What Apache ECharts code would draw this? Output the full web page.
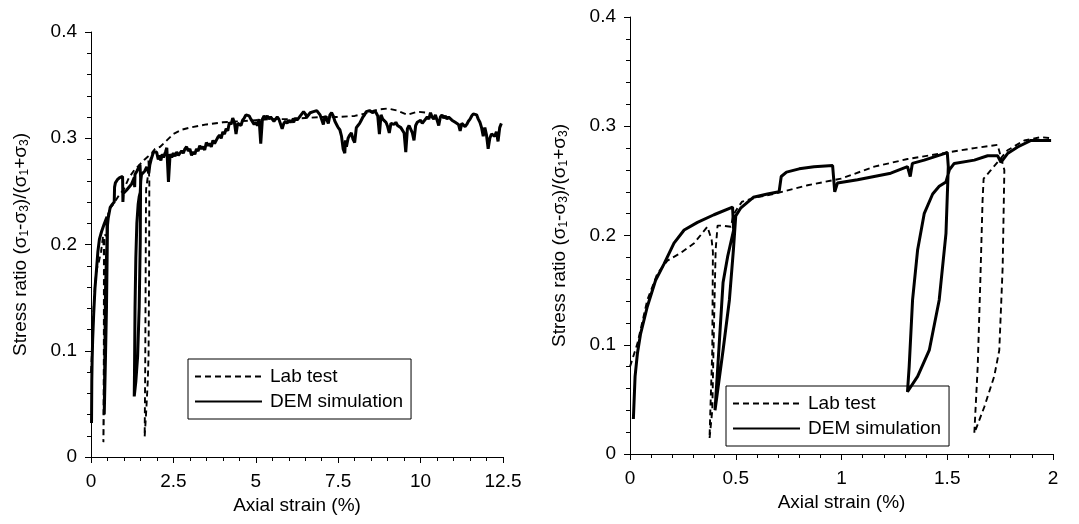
<!DOCTYPE html>
<html>
<head>
<meta charset="utf-8">
<script src="https://cdn.jsdelivr.net/npm/echarts@6/dist/echarts.min.js"></script>
<style>
html,body{margin:0;padding:0;background:#fff;}
#chart{width:1079px;height:524px;}
</style>
</head>
<body>
<div id="chart"></div>
<script>
// ---- tick labels ----
var leftXTicks = [0, 2.5, 5, 7.5, 10, 12.5];
var rightXTicks = [0, 0.5, 1, 1.5, 2];
var yTicks = [0, 0.1, 0.2, 0.3, 0.4];
var seriesNames = ['Lab test', 'DEM simulation'];

// ---- Lab test, first 2 % strain [strain %, stress ratio] ----
var labEarly = [
  [0.0,0.080],[0.035,0.101],[0.082,0.141],[0.129,0.165],[0.177,0.177],[0.24,0.184],
  [0.303,0.193],[0.366,0.208],[0.386,0.196],[0.392,0.185],[0.389,0.095],[0.379,0.034],
  [0.376,0.014],[0.389,0.040],[0.398,0.126],[0.405,0.187],[0.414,0.209],[0.439,0.209],
  [0.477,0.208],[0.489,0.219],[0.508,0.225],[0.53,0.231],[0.6,0.235],[0.68,0.238],
  [0.84,0.246],[0.997,0.252],[1.155,0.263],[1.312,0.270],[1.47,0.275],[1.628,0.280],
  [1.738,0.283],[1.77,0.260],[1.762,0.171],[1.746,0.095],[1.722,0.071],[1.675,0.043],
  [1.628,0.019],[1.644,0.080],[1.656,0.156],[1.667,0.232],[1.672,0.252],[1.707,0.260],
  [1.746,0.269],[1.785,0.278],[1.864,0.287],[1.943,0.290],[1.991,0.289]
];
// ---- Lab test, beyond 2 % strain ----
var labLate = [
  [2.1,0.292],[2.3,0.298],[2.5,0.304],[2.75,0.308],[3.0,0.310],[3.5,0.313],[4.0,0.315],
  [4.5,0.316],[5.0,0.317],[5.5,0.318],[6.0,0.318],[6.5,0.319],[7.0,0.320],[7.5,0.320],
  [8.0,0.321],[8.4,0.324],[8.7,0.327],[9.0,0.328],[9.3,0.326],[9.6,0.322],[9.9,0.325],
  [10.2,0.324]
];
// ---- DEM simulation, first 2 % strain ----
var demEarly = [
  [0.016,0.032],[0.024,0.071],[0.035,0.092],[0.05,0.110],[0.082,0.135],[0.121,0.159],
  [0.161,0.174],[0.208,0.193],[0.256,0.205],[0.319,0.212],[0.397,0.219],[0.485,0.226],
  [0.49,0.205],[0.462,0.181],[0.44,0.157],[0.42,0.095],[0.402,0.040],[0.409,0.040],
  [0.44,0.095],[0.47,0.141],[0.489,0.187],[0.5,0.218],[0.523,0.225],[0.583,0.235],
  [0.65,0.238],[0.705,0.240],[0.715,0.254],[0.74,0.258],[0.8,0.261],[0.87,0.263],
  [0.958,0.264],[0.968,0.240],[0.981,0.248],[1.076,0.251],[1.233,0.257],[1.312,0.263],
  [1.325,0.254],[1.335,0.266],[1.391,0.269],[1.486,0.275],[1.5,0.276],[1.505,0.263],
  [1.494,0.202],[1.462,0.141],[1.415,0.095],[1.36,0.071],[1.312,0.057],[1.32,0.080],
  [1.336,0.141],[1.36,0.187],[1.391,0.220],[1.431,0.238],[1.462,0.245],[1.494,0.249],
  [1.51,0.260],[1.533,0.266],[1.628,0.269],[1.691,0.273],[1.738,0.273],[1.754,0.267],
  [1.785,0.275],[1.833,0.281],[1.896,0.287],[1.943,0.287],[1.991,0.287]
];
// ---- DEM simulation, beyond 2 % strain ----
var demLate = [
  [2.04,0.280],[2.08,0.284],[2.12,0.279],[2.16,0.285],[2.2,0.282],[2.26,0.287],[2.3,0.291],
  [2.35,0.259],[2.4,0.285],[2.45,0.282],[2.5,0.286],[2.55,0.283],[2.6,0.287],[2.65,0.284],
  [2.7,0.286],[2.75,0.288],[2.8,0.286],[2.85,0.290],[2.9,0.292],[2.95,0.288],[3.0,0.290],
  [3.05,0.284],[3.1,0.287],[3.15,0.285],[3.2,0.290],[3.25,0.288],[3.3,0.293],[3.35,0.290],
  [3.4,0.292],[3.45,0.289],[3.5,0.296],[3.55,0.293],[3.6,0.295],[3.65,0.292],[3.7,0.298],
  [3.75,0.295],[3.8,0.298],[3.85,0.301],[3.9,0.303],[3.95,0.300],[4.0,0.306],[4.05,0.304],
  [4.1,0.309],[4.15,0.307],[4.2,0.315],[4.25,0.313],[4.3,0.319],[4.35,0.315],[4.4,0.304],
  [4.45,0.314],[4.5,0.315],[4.55,0.312],[4.6,0.317],[4.65,0.319],[4.7,0.322],[4.75,0.323],
  [4.8,0.321],[4.85,0.318],[4.9,0.317],[4.95,0.313],[5.0,0.315],[5.05,0.312],[5.1,0.318],
  [5.15,0.295],[5.2,0.318],[5.25,0.321],[5.3,0.319],[5.35,0.321],[5.4,0.318],[5.45,0.320],
  [5.5,0.319],[5.55,0.316],[5.6,0.318],[5.65,0.320],[5.7,0.318],[5.8,0.309],[5.85,0.314],
  [5.9,0.316],[5.95,0.314],[6.0,0.317],[6.05,0.315],[6.1,0.317],[6.15,0.315],[6.2,0.319],
  [6.25,0.317],[6.3,0.319],[6.35,0.321],[6.4,0.322],[6.45,0.325],[6.5,0.323],[6.55,0.320],
  [6.6,0.321],[6.65,0.324],[6.7,0.323],[6.75,0.325],[6.8,0.324],[6.85,0.326],[6.9,0.325],
  [6.95,0.322],[7.0,0.321],[7.05,0.313],[7.1,0.321],[7.15,0.318],[7.2,0.314],[7.25,0.322],
  [7.3,0.324],[7.35,0.321],[7.4,0.316],[7.45,0.313],[7.5,0.310],[7.55,0.308],[7.6,0.302],
  [7.65,0.290],[7.7,0.286],[7.72,0.298],[7.75,0.292],[7.8,0.300],[7.85,0.303],[7.9,0.305],
  [7.95,0.299],[8.0,0.296],[8.05,0.310],[8.1,0.312],[8.15,0.314],[8.2,0.317],[8.25,0.320],
  [8.3,0.322],[8.35,0.325],[8.4,0.324],[8.45,0.326],[8.5,0.326],[8.55,0.324],[8.6,0.326],
  [8.65,0.324],[8.7,0.321],[8.75,0.304],[8.8,0.322],[8.85,0.318],[8.9,0.319],[8.95,0.315],
  [9.0,0.311],[9.05,0.305],[9.1,0.314],[9.15,0.315],[9.2,0.313],[9.25,0.315],[9.3,0.312],
  [9.35,0.313],[9.4,0.310],[9.45,0.310],[9.5,0.305],[9.55,0.287],[9.6,0.309],[9.65,0.312],
  [9.7,0.311],[9.75,0.305],[9.8,0.298],[9.85,0.312],[9.9,0.315],[9.95,0.314],[10.0,0.317],
  [10.05,0.314],[10.1,0.315],[10.15,0.318],[10.2,0.320],[10.25,0.318],[10.3,0.324],
  [10.35,0.320],[10.4,0.318],[10.45,0.322],[10.5,0.321],[10.55,0.312],[10.6,0.320],
  [10.65,0.322],[10.7,0.319],[10.75,0.321],[10.8,0.318],[10.85,0.320],[10.9,0.320],
  [10.95,0.317],[11.0,0.318],[11.05,0.315],[11.1,0.316],[11.15,0.313],[11.2,0.307],
  [11.25,0.314],[11.3,0.314],[11.35,0.311],[11.4,0.313],[11.45,0.316],[11.5,0.318],
  [11.55,0.321],[11.6,0.323],[11.65,0.324],[11.7,0.322],[11.75,0.318],[11.8,0.315],
  [11.85,0.310],[11.9,0.302],[11.95,0.310],[12.0,0.303],[12.05,0.290],[12.1,0.300],
  [12.15,0.304],[12.2,0.305],[12.25,0.302],[12.3,0.306],[12.35,0.297],[12.4,0.310],
  [12.45,0.314]
];

var FONT = 'Liberation Sans, Arial, Helvetica, sans-serif';
var yName = 'Stress ratio (\u03c3{s|1}-\u03c3{s|3})/(\u03c3{s|1}+\u03c3{s|3})';

function xAxisCfg(gi, ticks) {
  return {
    type: 'value', gridIndex: gi,
    min: ticks[0], max: ticks[ticks.length - 1], interval: ticks[1] - ticks[0],
    name: 'Axial strain (%)', nameLocation: 'middle', nameGap: 35,
    nameTextStyle: { color: '#000', fontSize: 19, fontFamily: FONT },
    axisLine: { show: true, onZero: false, lineStyle: { color: '#000', width: 1 } },
    axisTick: { show: true, inside: false, length: 6, lineStyle: { color: '#000' } },
    minorTick: { show: true, splitNumber: 5, length: 4, lineStyle: { color: '#000' } },
    axisLabel: { color: '#000', fontSize: 19, fontFamily: FONT, margin: 15, showMaxLabel: true, showMinLabel: true },
    splitLine: { show: false }
  };
}
function yAxisCfg(gi) {
  return {
    type: 'value', gridIndex: gi,
    min: yTicks[0], max: yTicks[yTicks.length - 1], interval: yTicks[1] - yTicks[0],
    name: yName, nameLocation: 'middle', nameGap: 60,
    nameTextStyle: { color: '#000', fontSize: 19, fontFamily: FONT,
      rich: { s: { fontSize: 12, fontFamily: FONT, color: '#000', verticalAlign: 'bottom', padding: [9, 0, 0, 0] } } },
    axisLine: { show: true, onZero: false, lineStyle: { color: '#000', width: 1 } },
    axisTick: { show: true, inside: false, length: 6, lineStyle: { color: '#000' } },
    minorTick: { show: true, splitNumber: 5, length: 4, lineStyle: { color: '#000' } },
    axisLabel: { color: '#000', fontSize: 19, fontFamily: FONT, margin: 14 },
    splitLine: { show: false }
  };
}
function labSeries(xi, data) {
  return { name: seriesNames[0], type: 'line', xAxisIndex: xi, yAxisIndex: xi, data: data,
    symbol: 'none', showSymbol: false, clip: true, z: 3,
    itemStyle: { color: '#000' },
    lineStyle: { color: '#000', width: 1.9, type: [6, 4] } };
}
function demSeries(xi, data) {
  return { name: seriesNames[1], type: 'line', xAxisIndex: xi, yAxisIndex: xi, data: data,
    symbol: 'none', showSymbol: false, clip: true, z: 2,
    itemStyle: { color: '#000' },
    lineStyle: { color: '#000', width: 3 } };
}
function legendCfg(left, top) {
  return {
    data: seriesNames, orient: 'vertical', left: left, top: top,
    itemWidth: 67, itemHeight: 14, itemGap: 6,
    padding: [8, 8, 8, 6],
    borderColor: '#000', borderWidth: 1, backgroundColor: 'transparent',
    selectedMode: false, z: 1,
    itemStyle: { color: 'rgba(0,0,0,0)', borderColor: 'rgba(0,0,0,0)', borderWidth: 0, opacity: 0 },
    textStyle: { color: '#000', fontSize: 19, fontFamily: FONT, padding: [0, 0, 0, 3] }
  };
}

var chart = echarts.init(document.getElementById('chart'), null, { renderer: 'canvas' });
chart.setOption({
  animation: false,
  backgroundColor: '#fff',
  grid: [
    { left: 91, top: 32, width: 412, height: 425 },
    { left: 630, top: 17, width: 423, height: 437 }
  ],
  xAxis: [xAxisCfg(0, leftXTicks), xAxisCfg(1, rightXTicks)],
  yAxis: [yAxisCfg(0), yAxisCfg(1)],
  legend: [legendCfg(188, 359), legendCfg(726, 386)],
  series: [
    labSeries(0, labEarly.concat(labLate)),
    demSeries(0, demEarly.concat(demLate)),
    labSeries(1, labEarly),
    demSeries(1, demEarly)
  ]
});
</script>
</body>
</html>
